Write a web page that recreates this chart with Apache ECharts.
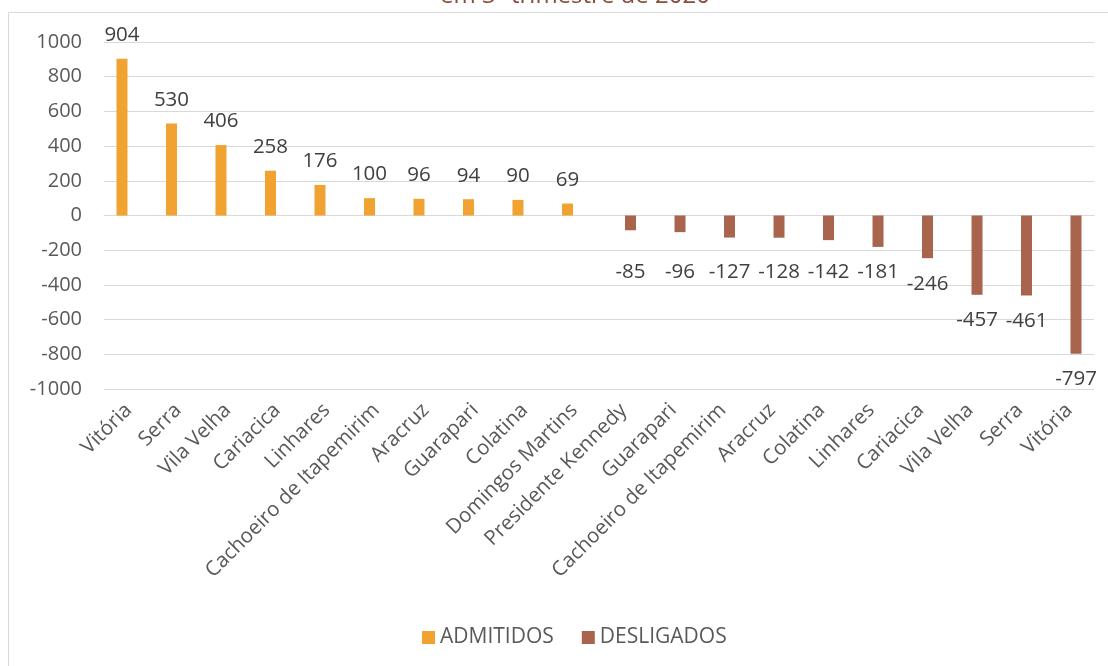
<!DOCTYPE html>
<html><head><meta charset="utf-8">
<script src="https://cdn.jsdelivr.net/npm/echarts@6/dist/echarts.min.js"></script>
<style>html,body{margin:0;padding:0;background:#fff}#c{width:1108px;height:666px}</style>
</head><body><div id="c"></div>
<script>
const categories = ["Vitória","Serra","Vila Velha","Cariacica","Linhares","Cachoeiro de Itapemirim","Aracruz","Guarapari","Colatina","Domingos Martins","Presidente Kennedy","Guarapari","Cachoeiro de Itapemirim","Aracruz","Colatina","Linhares","Cariacica","Vila Velha","Serra","Vitória"];
const admitidos = [904,530,406,258,176,100,96,94,90,69,'-','-','-','-','-','-','-','-','-','-'];
const desligados = ['-','-','-','-','-','-','-','-','-','-',-85,-96,-127,-128,-142,-181,-246,-457,-461,-797];
const titleText = "em 3º trimestre de 2020";
const yTicks = {min:-1000,max:1000,interval:200};
const FONT = "Open Sans";
// plot height 347px over 2000 units; short negative labels aligned at the -181 label row
const pxPerUnit = 347/2000;
const desData = desligados.map(v => {
  if (v === '-') return v;
  const off = Math.abs(v) < 181 ? (181 - Math.abs(v)) * pxPerUnit : 0;
  return {value:v, label:{offset:[0, off]}};
});
const chart = echarts.init(document.getElementById('c'));
chart.setOption({
  animation:false,
  textStyle:{fontFamily:FONT},
  graphic:[
    {type:'rect',shape:{x:8.5,y:12.5,width:1200,height:700},style:{fill:'none',stroke:'#d9d9d9',lineWidth:1},z:-1},
    {type:'text',x:575,y:8,style:{text:titleText,fill:'#8a4b3a',font:'24px "Open Sans"',textAlign:'center',textVerticalAlign:'bottom'}}
  ],
  grid:{left:104,right:14,top:42,bottom:277},
  legend:{bottom:13,left:417,itemWidth:13,itemHeight:13,itemGap:28,icon:'rect',
    textStyle:{fontSize:21,color:'#595959',fontFamily:FONT},
    data:['ADMITIDOS','DESLIGADOS']},
  xAxis:{type:'category',data:categories,
    axisLine:{lineStyle:{color:'#d9d9d9',width:1}},axisTick:{show:false},
    axisLabel:{rotate:45,interval:0,fontSize:20.5,color:'#595959',margin:18,fontFamily:FONT}},
  yAxis:{type:'value',min:yTicks.min,max:yTicks.max,interval:yTicks.interval,
    axisLine:{show:false},axisTick:{show:false},
    splitLine:{lineStyle:{color:'#d9d9d9',width:1}},
    axisLabel:{fontSize:20,color:'#595959',margin:22,fontFamily:FONT,formatter:v=>String(v)}},
  series:[
    {name:'ADMITIDOS',type:'bar',data:admitidos,barWidth:11,barGap:'23%',
      itemStyle:{color:'#f0a330'},
      label:{show:true,position:'top',distance:13,fontSize:20.5,color:'#404040',fontFamily:FONT}},
    {name:'DESLIGADOS',type:'bar',data:desData,barWidth:11,barGap:'23%',
      itemStyle:{color:'#a8644d'},
      label:{show:true,position:'bottom',distance:15,fontSize:20.5,color:'#404040',fontFamily:FONT}}
  ]
});
</script></body></html>
